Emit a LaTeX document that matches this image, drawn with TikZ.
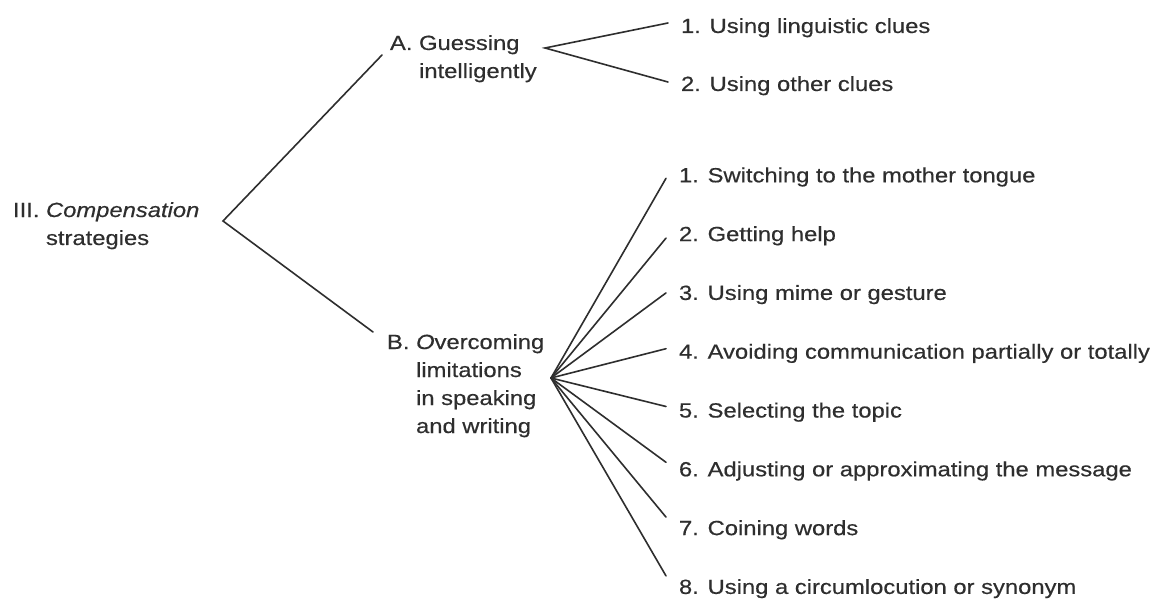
\documentclass[tikz,border=0pt]{standalone}
\usepackage{fontspec}
\setmainfont{Liberation Sans}[FakeStretch=1.16,FakeBold=0.4]
\definecolor{ink}{HTML}{2E2E2E}
\begin{document}
\begin{tikzpicture}[x=1pt,y=-1pt,
  txt/.style={anchor=base west,inner sep=0pt,outer sep=0pt,text=ink,
    font=\fontsize{20.5}{28}\selectfont},
  branch/.style={draw=ink,line width=1.6pt,line cap=round,line join=miter}]
\useasboundingbox[fill=white] (0,0) rectangle (1157,599);
% root
\node[txt] (root) at (13,217) {\begin{tabular}[t]{@{}l@{\ }l@{}}III. & \textit{Compensation}\\ & strategies\end{tabular}};
\coordinate (rootv) at (223,221);
% A
\node[txt] (A) at (390,50) {\begin{tabular}[t]{@{}l@{\ }l@{}}A. & Guessing\\ & intelligently\end{tabular}};
\coordinate (Av) at (545,48);
% B
\node[txt] (B) at (387,349) {\begin{tabular}[t]{@{}l@{\ }l@{}}B. & \textit{O}vercoming\\ & limitations\\ & in speaking\\ & and writing\end{tabular}};
\coordinate (Bv) at (551,378);
% A children
\node[txt] (a1) at (681,33) {1. Using linguistic clues};
\node[txt] (a2) at (681,91) {2. Using other clues};
% B children
\node[txt] (b1) at (679,182.3) {1. Switching to the mother tongue};
\node[txt] (b2) at (679,241.1) {2. Getting help};
\node[txt] (b3) at (679,299.9) {3. Using mime or gesture};
\node[txt] (b4) at (679,358.7) {4. Avoiding communication partially or totally};
\node[txt] (b5) at (679,417.5) {5. Selecting the topic};
\node[txt] (b6) at (679,476.3) {6. Adjusting or approximating the message};
\node[txt] (b7) at (679,535.1) {7. Coining words};
\node[txt] (b8) at (679,593.9) {8. Using a circumlocution or synonym};
% connectors
\draw[branch] ([xshift=-8pt,yshift=-5pt]A.base west) -- (rootv) -- ([xshift=-14pt,yshift=17pt]B.base west);
\draw[branch] ([xshift=-13pt,yshift=10pt]a1.base west) -- (Av) -- ([xshift=-13pt,yshift=9pt]a2.base west);
\draw[branch] (Bv) -- ([xshift=-13pt,yshift=4pt]b1.base west);
\draw[branch] (Bv) -- ([xshift=-13pt,yshift=3pt]b2.base west);
\draw[branch] (Bv) -- ([xshift=-13pt,yshift=7pt]b3.base west);
\draw[branch] (Bv) -- ([xshift=-13pt,yshift=10pt]b4.base west);
\draw[branch] (Bv) -- ([xshift=-13pt,yshift=11pt]b5.base west);
\draw[branch] (Bv) -- ([xshift=-13pt,yshift=14pt]b6.base west);
\draw[branch] (Bv) -- ([xshift=-13pt,yshift=18pt]b7.base west);
\draw[branch] (Bv) -- ([xshift=-13pt,yshift=18pt]b8.base west);
\end{tikzpicture}
\end{document}
